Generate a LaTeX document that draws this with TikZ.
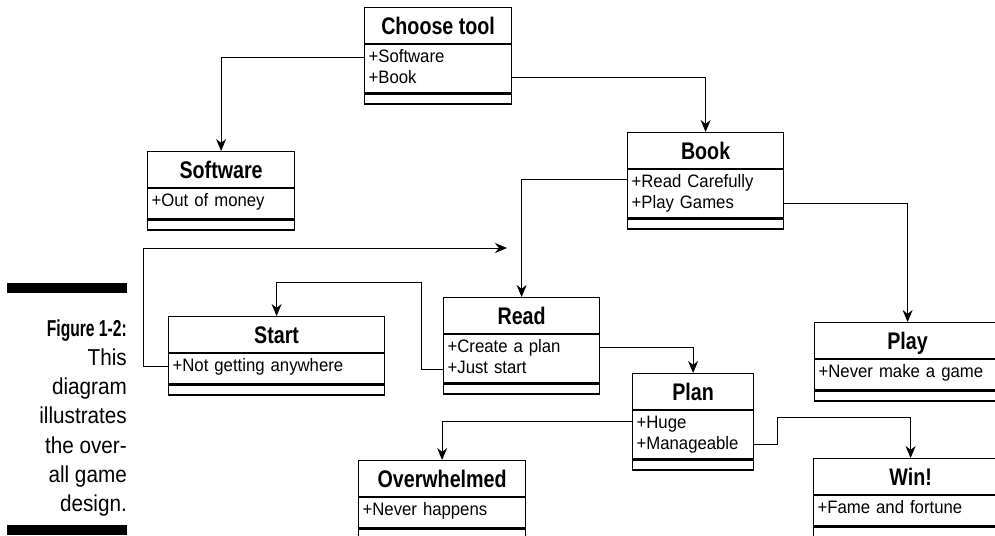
\documentclass[tikz,border=0pt]{standalone}
\usepackage{fontspec}
\setmainfont{Liberation Sans}[FakeStretch=0.93]
\newfontfamily\titlefont{Liberation Sans}[FakeStretch=0.82]
\newfontfamily\capfont{Liberation Sans}[FakeStretch=0.68]
\newfontfamily\captextfont{Liberation Sans}[FakeStretch=0.9]
\usetikzlibrary{arrows.meta,calc}

\tikzset{
  box/.style={draw, line width=1.2pt, inner sep=0pt, anchor=north west},
  classtitle/.style={box, font=\titlefont\bfseries\fontsize{24}{28}\selectfont, text height=27pt, text depth=9pt},
  classattr/.style={box, font=\fontsize{18}{21}\selectfont, align=left, text height=18pt, inner xsep=4pt},
  classfoot/.style={box, minimum height=10pt},
  conn/.style={line width=1pt, -{Stealth[length=12pt,width=10pt]}},
  capbold/.style={font=\capfont\bfseries\fontsize{23}{27}\selectfont, inner sep=0pt, anchor=base east},
  captext/.style={font=\captextfont\fontsize{23}{27}\selectfont, inner sep=0pt, anchor=base east},
}

% name, left, top, width, title, attributes, depth of attributes
\newcommand{\umlclass}[7]{%
  \pgfmathsetmacro{\attrw}{#4-8}
  \node[classtitle, minimum width=#4pt] (#1) at (#2,#3) {#5};
  \node[classattr, minimum width=#4pt, text width=\attrw pt, text depth=#7pt] (#1-attr) at (#1.south west) {#6};
  \node[classfoot, minimum width=#4pt] (#1-foot) at (#1-attr.south west) {};
}

\begin{document}
\begin{tikzpicture}[x=1pt, y=-1pt]
\clip (0,0) rectangle (995,535);

% Caption
\fill (7,283) rectangle (127,293);
\fill (7,525) rectangle (127,535);
\node[capbold] (figlabel) at (127,336) {Figure 1-2:};
\foreach \txt [count=\i] in {This, diagram, illustrates, the over-, all game, design.}
  \node[captext] (cap\i) at (127,{336+\i*29.3}) {\txt};

% Classes
\umlclass{choose}{364}{7}{147}{Choose tool}{+Software\\+Book}{30}
\umlclass{software}{147}{151}{147}{Software}{+Out of money}{12}
\umlclass{book}{627}{132}{156}{Book}{+Read Carefully\\+Play Games}{30}
\umlclass{read}{443}{297}{156}{Read}{+Create a plan\\+Just start}{30}
\umlclass{start}{168}{316}{216}{Start}{+Not getting anywhere}{12}
\umlclass{plan}{632}{373}{121}{Plan}{+Huge\\+Manageable}{30}
\umlclass{play}{814}{322}{186}{Play}{+Never make a game}{12}
\umlclass{win}{813}{458}{194}{Win!}{+Fame and fortune}{12}
\umlclass{overwhelmed}{358}{460}{167}{Overwhelmed}{+Never happens}{12}

% Connectors
\coordinate (loopend) at (507,248);
\draw[conn] ([yshift=-13pt]choose-attr.north west) -| (software.north);
\draw[conn] ([yshift=-33pt]choose-attr.north east) -| (book.north);
\draw[conn] ([yshift=-10pt]book-attr.north west) -| (read.north);
\draw[conn] ([yshift=-34pt]book-attr.north east) -| (play.north);
\draw[conn] ([yshift=-35pt]read-attr.north west) -- ++(-22,0) |- ([yshift=34pt]start.north) -- (start.north);
\draw[conn] ([yshift=-13pt]start-attr.north west) -- ++(-25,0) |- (loopend);
\draw[conn] ([yshift=-13pt]read-attr.north east) -| (plan.north);
\draw[conn] ([yshift=-11pt]plan-attr.north west) -| (overwhelmed.north);
\draw[conn] ([yshift=-34pt]plan-attr.north east) -- ++(23,0) |- ([yshift=41pt]win.north) -- (win.north);

\end{tikzpicture}
\end{document}
